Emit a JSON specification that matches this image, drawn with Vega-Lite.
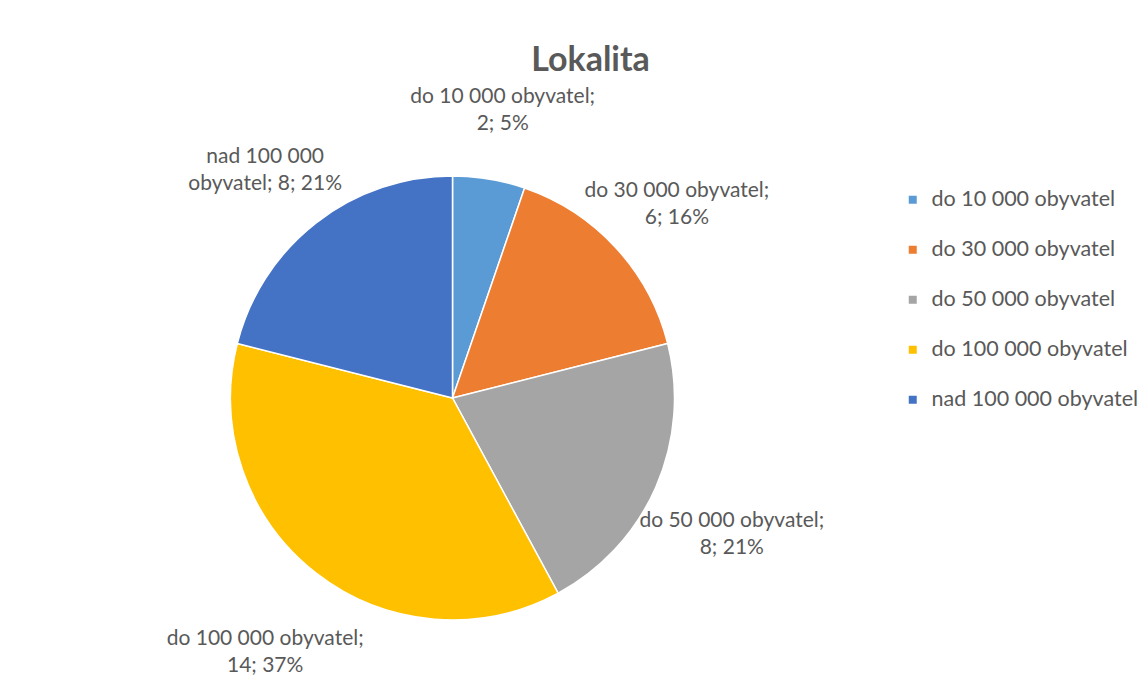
{
  "$schema": "https://vega.github.io/schema/vega-lite/v6.json",
  "width": 885,
  "height": 520,
  "padding": {"left": 10, "top": 44, "right": 0, "bottom": 0},
  "background": "white",
  "title": {"text": "Lokalita", "fontSize": 34, "font": "Lato", "fontWeight": "bold", "color": "#595959", "anchor": "middle", "dx": 138, "offset": 8},
  "config": {"view": {"stroke": null}},
  "data": {"values": [
    {"kategorie": "do 10 000 obyvatel", "pocet": 2, "poradi": 1, "popisek": "do 10 000 obyvatel;\n2; 5%"},
    {"kategorie": "do 30 000 obyvatel", "pocet": 6, "poradi": 2, "popisek": "do 30 000 obyvatel;\n6; 16%"},
    {"kategorie": "do 50 000 obyvatel", "pocet": 8, "poradi": 3, "popisek": "do 50 000 obyvatel;\n8; 21%"},
    {"kategorie": "do 100 000 obyvatel", "pocet": 14, "poradi": 4, "popisek": "do 100 000 obyvatel;\n14; 37%"},
    {"kategorie": "nad 100 000 obyvatel", "pocet": 8, "poradi": 5, "popisek": "nad 100 000\nobyvatel; 8; 21%"}
  ]},
  "encoding": {
    "theta": {"field": "pocet", "type": "quantitative", "stack": true},
    "order": {"field": "poradi", "type": "quantitative"}
  },
  "layer": [
    {
      "mark": {"type": "arc", "outerRadius": 222, "stroke": "white", "strokeWidth": 1.5},
      "encoding": {
        "color": {
          "field": "kategorie", "type": "nominal",
          "scale": {
            "domain": ["do 10 000 obyvatel", "do 30 000 obyvatel", "do 50 000 obyvatel", "do 100 000 obyvatel", "nad 100 000 obyvatel"],
            "range": ["#5B9BD5", "#ED7D31", "#A5A5A5", "#FFC000", "#4472C4"]
          },
          "legend": {
            "orient": "none", "legendX": 892, "legendY": 51, "title": null,
            "symbolType": "square", "symbolSize": 64, "symbolStrokeWidth": 0,
            "labelFont": "Lato", "labelFontSize": 21.5, "labelColor": "#595959", "labelLimit": 300,
            "rowPadding": 27, "labelOffset": 8
          }
        }
      }
    },
    {
      "mark": {"type": "text", "radius": 305, "font": "Lato", "fontSize": 21, "color": "#595959", "lineBreak": "\n", "align": "center", "baseline": "middle", "lineHeight": 27},
      "encoding": {"text": {"field": "popisek", "type": "nominal"}}
    }
  ]
}
